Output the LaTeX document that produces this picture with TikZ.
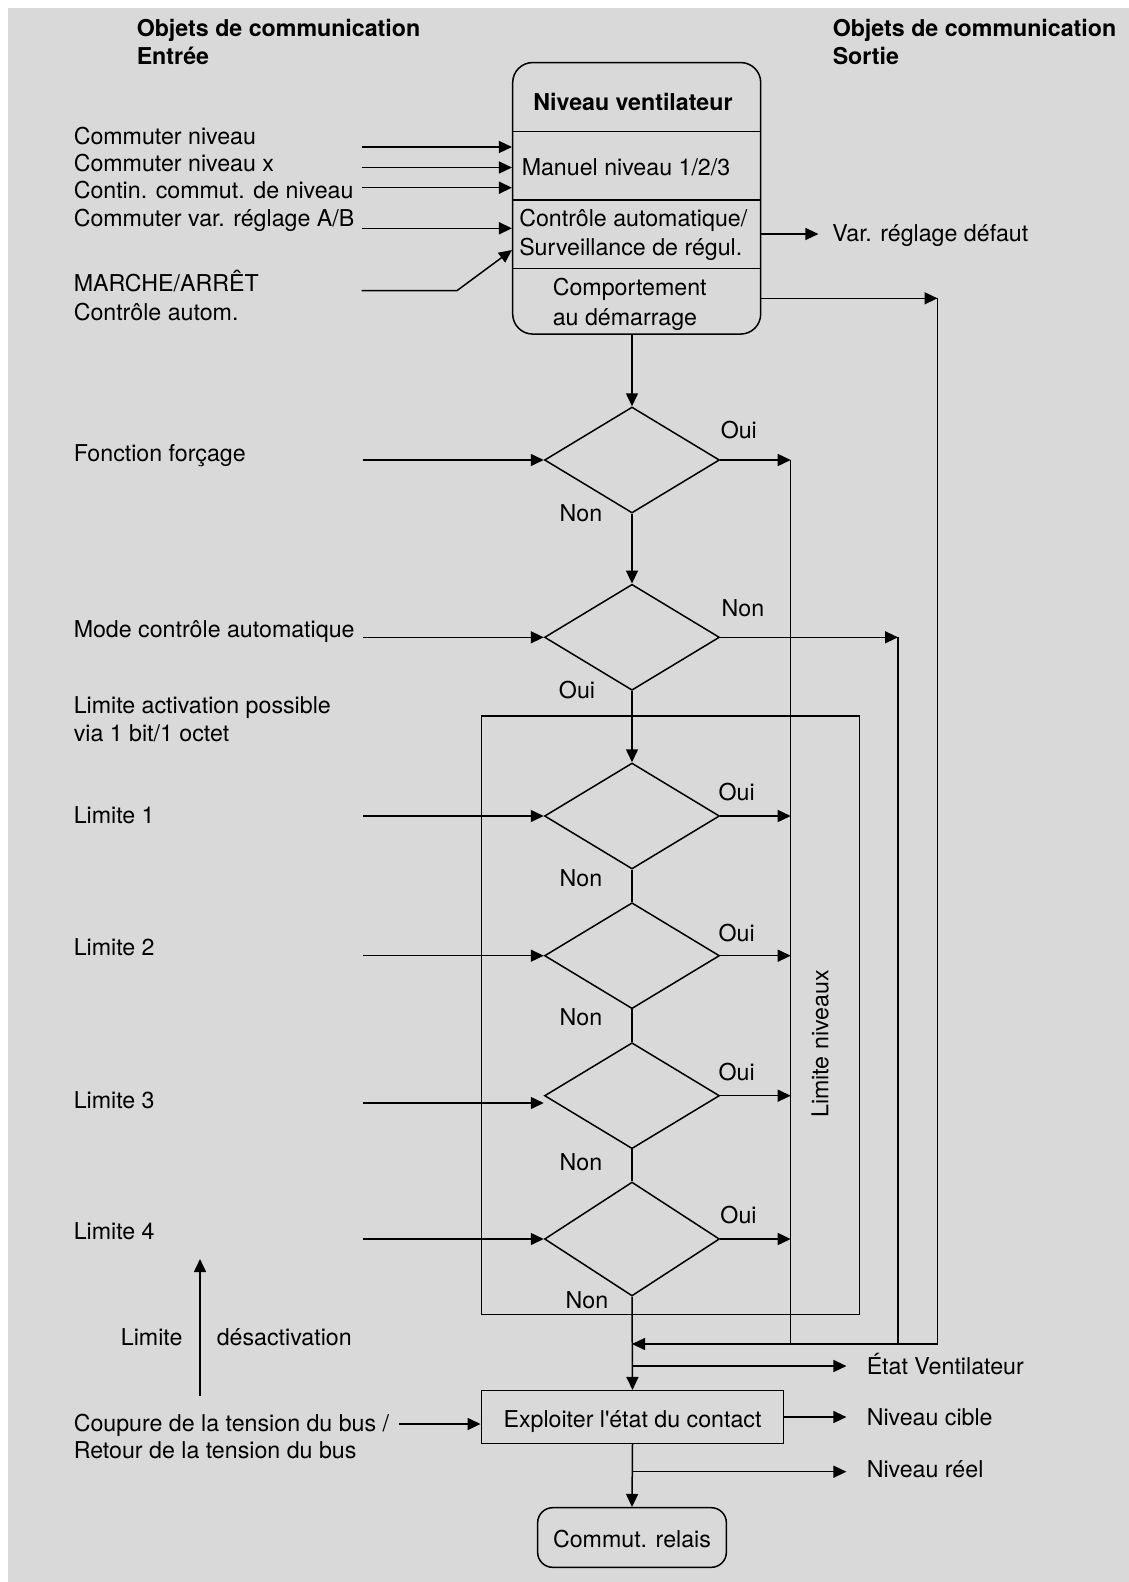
\documentclass[tikz,border=0pt]{standalone}
\usepackage{fontspec}
\setmainfont{TeX Gyre Heros}
\usetikzlibrary{arrows.meta,shapes.geometric}
\definecolor{bg}{RGB}{217,217,217}
\begin{document}
\begin{tikzpicture}[x=1pt,y=-1pt,
  font=\fontsize{23.2}{28}\selectfont,
  line width=1.5pt,
  arr/.style={-{Triangle[length=13pt,width=12pt]}},
  lbl/.style={anchor=base west, inner sep=0},
  ctr/.style={anchor=base, inner sep=0},
  bold/.style={font=\fontsize{23.2}{28}\selectfont\bfseries},
  dia/.style={draw, diamond, minimum width=175pt, minimum height=106pt, inner sep=0},
  box/.style={draw, inner sep=0}]
\useasboundingbox (0,0) rectangle (1129,1582);
\fill[white] (0,0) rectangle (1129,1582);
\fill[bg] (8,8) rectangle (1129,1582);

% headers
\node[lbl,bold] (hin1) at (136,36) {Objets de communication};
\node[lbl,bold] (hin2) at (136,64) {Entrée};
\node[lbl,bold] (hout1) at (832,36) {Objets de communication};
\node[lbl,bold] (hout2) at (832,64) {Sortie};

% main box
\node[box, rounded corners=20pt, minimum width=248pt, minimum height=271.5pt] (mb) at (636.7,198.3) {};
\coordinate (s1) at (0,131.5);
\coordinate (s2) at (0,199.8);
\coordinate (s3) at (0,268.4);
\draw (mb.west |- s1) -- (mb.east |- s1);
\draw (mb.west |- s2) -- (mb.east |- s2);
\draw (mb.west |- s3) -- (mb.east |- s3);
\node[ctr,bold] (t0) at (633,110) {Niveau ventilateur};
\node[lbl] (t1) at (521,175) {Manuel niveau 1/2/3};
\node[lbl] (t2a) at (518.5,226) {Contrôle automatique/};
\node[lbl] (t2b) at (518.5,255) {Surveillance de régul.};
\node[lbl] (t3a) at (552,295.5) {Comportement};
\node[lbl] (t3b) at (552,325) {au démarrage};

% input labels top
\node[lbl] (l1) at (73,144) {Commuter niveau};
\node[lbl] (l2) at (73,171) {Commuter niveau x};
\node[lbl] (l3) at (73,198) {Contin. commut. de niveau};
\node[lbl] (l4) at (73,226) {Commuter var. réglage A/B};
\node[lbl] (l5a) at (73,291) {MARCHE/ARRÊT};
\node[lbl] (l5b) at (73,320) {Contrôle autom.};

\coordinate (i1) at (361.7,147);
\coordinate (i2) at (361.7,167.5);
\coordinate (i3) at (361.7,187.7);
\coordinate (i4) at (361.7,228.3);
\coordinate (i5) at (361.7,290.6);
\coordinate (i5b) at (457,290.6);
\coordinate (i5t) at (0,250);
\draw[arr] (i1) -- (i1 -| mb.west);
\draw[arr] (i2) -- (i2 -| mb.west);
\draw[arr] (i3) -- (i3 -| mb.west);
\draw[arr] (i4) -- (i4 -| mb.west);
\draw[arr] (i5) -- (i5b) -- (mb.west |- i5t);

% outputs of main box
\coordinate (vr) at (818.4,234);
\draw[arr] (mb.east |- vr) -- (vr);
\node[lbl] (vrl) at (831.5,241) {Var. réglage défaut};
\coordinate (c1) at (937.5,298.3);
\draw[arr] (mb.east |- c1) -- (c1);

% diamonds
\node[dia] (D1) at (632,460) {};
\node[dia] (D2) at (632,637.3) {};
\node[dia] (L1) at (632,816) {};
\node[dia] (L2) at (632,955.7) {};
\node[dia] (L3) at (632,1095.7) {};
\node[dia, minimum height=114pt] (L4) at (632,1239) {};

% group box
\node[box, minimum width=377.6pt, minimum height=598.3pt] (grp) at (670.5,1015.2) {};

% left labels
\node[lbl] (lf) at (73,461) {Fonction forçage};
\node[lbl] (lm) at (73,637.5) {Mode contrôle automatique};
\node[lbl] (la1) at (73,713) {Limite activation possible};
\node[lbl] (la2) at (73,741) {via 1 bit/1 octet};
\node[lbl] (lg1) at (73,823) {Limite 1};
\node[lbl] (lg2) at (73,955.5) {Limite 2};
\node[lbl] (lg3) at (73,1108) {Limite 3};
\node[lbl] (lg4) at (73,1239) {Limite 4};

\coordinate (f1) at (363,460);
\coordinate (f2) at (363,637.3);
\coordinate (f3) at (363,816);
\coordinate (f4) at (363,955.7);
\coordinate (f5) at (363,1103);
\coordinate (f6) at (363,1239);
\draw[arr] (f1) -- (D1.west);
\draw[arr] (f2) -- (D2.west);
\draw[arr] (f3) -- (L1.west);
\draw[arr] (f4) -- (L2.west);
\draw[arr] (f5) -- (f5 -| L3.west);
\draw[arr] (f6) -- (L4.west);

% main flow
\draw[arr] (D1.north |- mb.south) -- (D1.north);
\draw[arr] (D1.south) -- (D2.north);
\draw[arr] (D2.south) -- (L1.north);
\draw (L1.south) -- (L2.north);
\draw (L2.south) -- (L3.north);
\draw (L3.south) -- (L4.north);

% Oui / Non labels
\node[ctr] (o1) at (738.8,438.7) {Oui};
\node[ctr] (n1) at (581,521) {Non};
\node[ctr] (n2) at (743,616) {Non};
\node[ctr] (o2) at (577,698) {Oui};
\node[ctr] (o3) at (736.6,800) {Oui};
\node[ctr] (n3) at (581,886) {Non};
\node[ctr] (o4) at (736.6,941) {Oui};
\node[ctr] (n4) at (581,1025) {Non};
\node[ctr] (o5) at (736.6,1080.5) {Oui};
\node[ctr] (n5) at (581,1170) {Non};
\node[ctr] (o6) at (738.5,1223) {Oui};
\node[ctr] (n6) at (587,1308.6) {Non};

% collectors
\coordinate (ret) at (937.5,1344);
\coordinate (oy) at (790.7,460);
\coordinate (ny) at (898,637.3);
\draw[arr] (D1.east) -- (oy);
\draw[arr] (L1.east) -- (L1.east -| oy);
\draw[arr] (L2.east) -- (L2.east -| oy);
\draw[arr] (L3.east) -- (L3.east -| oy);
\draw[arr] (L4.east) -- (L4.east -| oy);
\draw (oy) -- (oy |- ret);
\draw[arr] (D2.east) -- (ny);
\draw (ny) -- (ny |- ret);
\draw (c1) -- (ret);
\draw[arr] (ret) -- (ret -| L4.south);
\node[rotate=90, inner sep=0] (ln) at (820,1044) {Limite niveaux};

% bottom part
\node[box, minimum width=302.4pt, minimum height=52.6pt] (ex) at (632.5,1417) {};
\node[ctr] (ext) at (632.5,1427) {Exploiter l\textquotesingle état du contact};
\node[box, rounded corners=15pt, minimum width=188.7pt, minimum height=59.6pt] (cr) at (632,1537.5) {};
\node[ctr] (crt) at (632,1547) {Commut. relais};
\draw[arr] (L4.south) -- (ex.north);
\draw[arr] (ex.south) -- (cr.north);

\coordinate (ev) at (846.4,1366);
\coordinate (nr) at (846.4,1471.7);
\draw[arr] (L4.south |- ev) -- (ev);
\draw[arr] (ex.east) -- (ex.east -| ev);
\draw[arr] (ex.south |- nr) -- (nr);
\node[lbl] (evl) at (866,1374) {État Ventilateur};
\node[lbl] (ncl) at (866,1425) {Niveau cible};
\node[lbl] (nrl) at (866,1477) {Niveau réel};

% bus section
\coordinate (ua) at (200,1396);
\coordinate (ub) at (200,1259);
\draw[arr] (ua) -- (ub);
\node[ctr] (lim) at (151.7,1345) {Limite};
\node[lbl] (des) at (216,1345) {désactivation};
\node[lbl] (cp1) at (73,1431) {Coupure de la tension du bus /};
\node[lbl] (cp2) at (73,1458) {Retour de la tension du bus};
\coordinate (cp) at (399,1424);
\draw[arr] (cp) -- (cp -| ex.west);
\end{tikzpicture}
\end{document}
